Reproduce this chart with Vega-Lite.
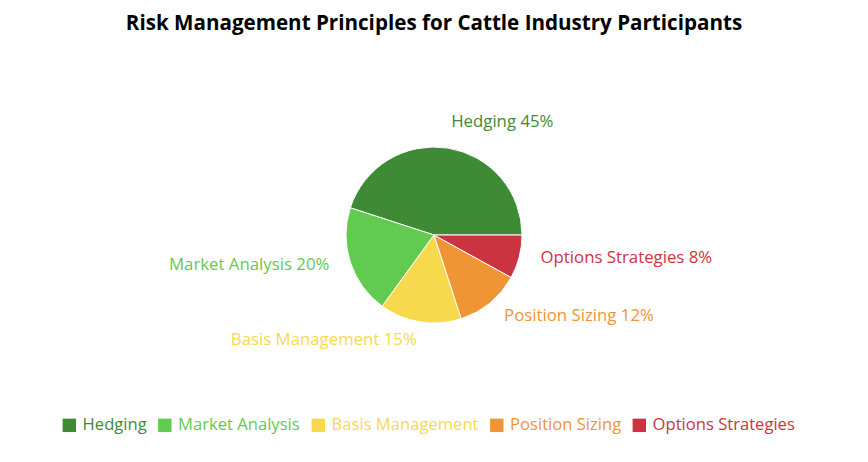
{
  "$schema": "https://vega.github.io/schema/vega-lite/v6.json",
  "autosize": "none",
  "width": 868,
  "height": 390,
  "padding": {"left": 0, "top": 40, "right": 0, "bottom": 32},
  "background": "white",
  "title": {
    "text": "Risk Management Principles for Cattle Industry Participants",
    "anchor": "middle",
    "fontSize": 20.6,
    "fontWeight": "bold",
    "font": "Open Sans",
    "color": "#000000",
    "offset": 5
  },
  "config": {"view": {"stroke": null}, "font": "Open Sans"},
  "data": {
    "values": [
      {"category": "Hedging", "value": 45},
      {"category": "Market Analysis", "value": 20},
      {"category": "Basis Management", "value": 15},
      {"category": "Position Sizing", "value": 12},
      {"category": "Options Strategies", "value": 8}
    ]
  },
  "transform": [
    {"calculate": "datum.category + ' ' + datum.value + '%'", "as": "label"},
    {"calculate": "indexof(['Hedging', 'Market Analysis', 'Basis Management', 'Position Sizing', 'Options Strategies'], datum.category)", "as": "ord"},
    {"stack": "value", "groupby": [], "sort": [{"field": "ord", "order": "ascending"}], "as": ["v0", "v1"]},
    {"calculate": "(datum.v0 + datum.v1) / 2", "as": "vmid"}
  ],
  "layer": [
    {
      "mark": {"type": "arc", "outerRadius": 88, "stroke": "white", "strokeWidth": 1},
      "encoding": {
        "theta": {
          "field": "v0",
          "type": "quantitative",
          "scale": {"domain": [0, 100], "range": [1.5707963, -4.7123890]}
        },
        "theta2": {"field": "v1"},
        "color": {
          "field": "category",
          "type": "nominal",
          "sort": ["Hedging", "Market Analysis", "Basis Management", "Position Sizing", "Options Strategies"],
          "scale": {
            "domain": ["Hedging", "Market Analysis", "Basis Management", "Position Sizing", "Options Strategies"],
            "range": ["#3e8a35", "#60cb4e", "#f8d94d", "#ef9535", "#cc3340"]
          },
          "legend": {
            "title": null,
            "orient": "none",
            "direction": "horizontal",
            "legendX": 61,
            "legendY": 377,
            "symbolType": "square",
            "symbolSize": 180,
            "symbolStrokeWidth": 0,
            "labelFontSize": 16.6,
            "labelFont": "Open Sans",
            "labelOffset": 5,
            "columnPadding": 9.5,
            "labelColor": {"expr": "scale('color', datum.value)"}
          }
        }
      }
    },
    {
      "transform": [{"filter": "datum.category === 'Hedging' || datum.category === 'Position Sizing' || datum.category === 'Options Strategies'"}],
      "mark": {"type": "text", "radius": 110, "align": "left", "baseline": "middle", "fontSize": 16.8, "dy": -4},
      "encoding": {
        "theta": {"field": "vmid", "type": "quantitative", "scale": {"domain": [0, 100], "range": [1.5707963, -4.7123890]}},
        "text": {"field": "label"},
        "color": {"field": "category", "type": "nominal", "legend": null}
      }
    },
    {
      "transform": [{"filter": "datum.category === 'Market Analysis' || datum.category === 'Basis Management'"}],
      "mark": {"type": "text", "radius": 110, "align": "right", "baseline": "middle", "fontSize": 16.8, "dy": -4},
      "encoding": {
        "theta": {"field": "vmid", "type": "quantitative", "scale": {"domain": [0, 100], "range": [1.5707963, -4.7123890]}},
        "text": {"field": "label"},
        "color": {"field": "category", "type": "nominal", "legend": null}
      }
    }
  ]
}
